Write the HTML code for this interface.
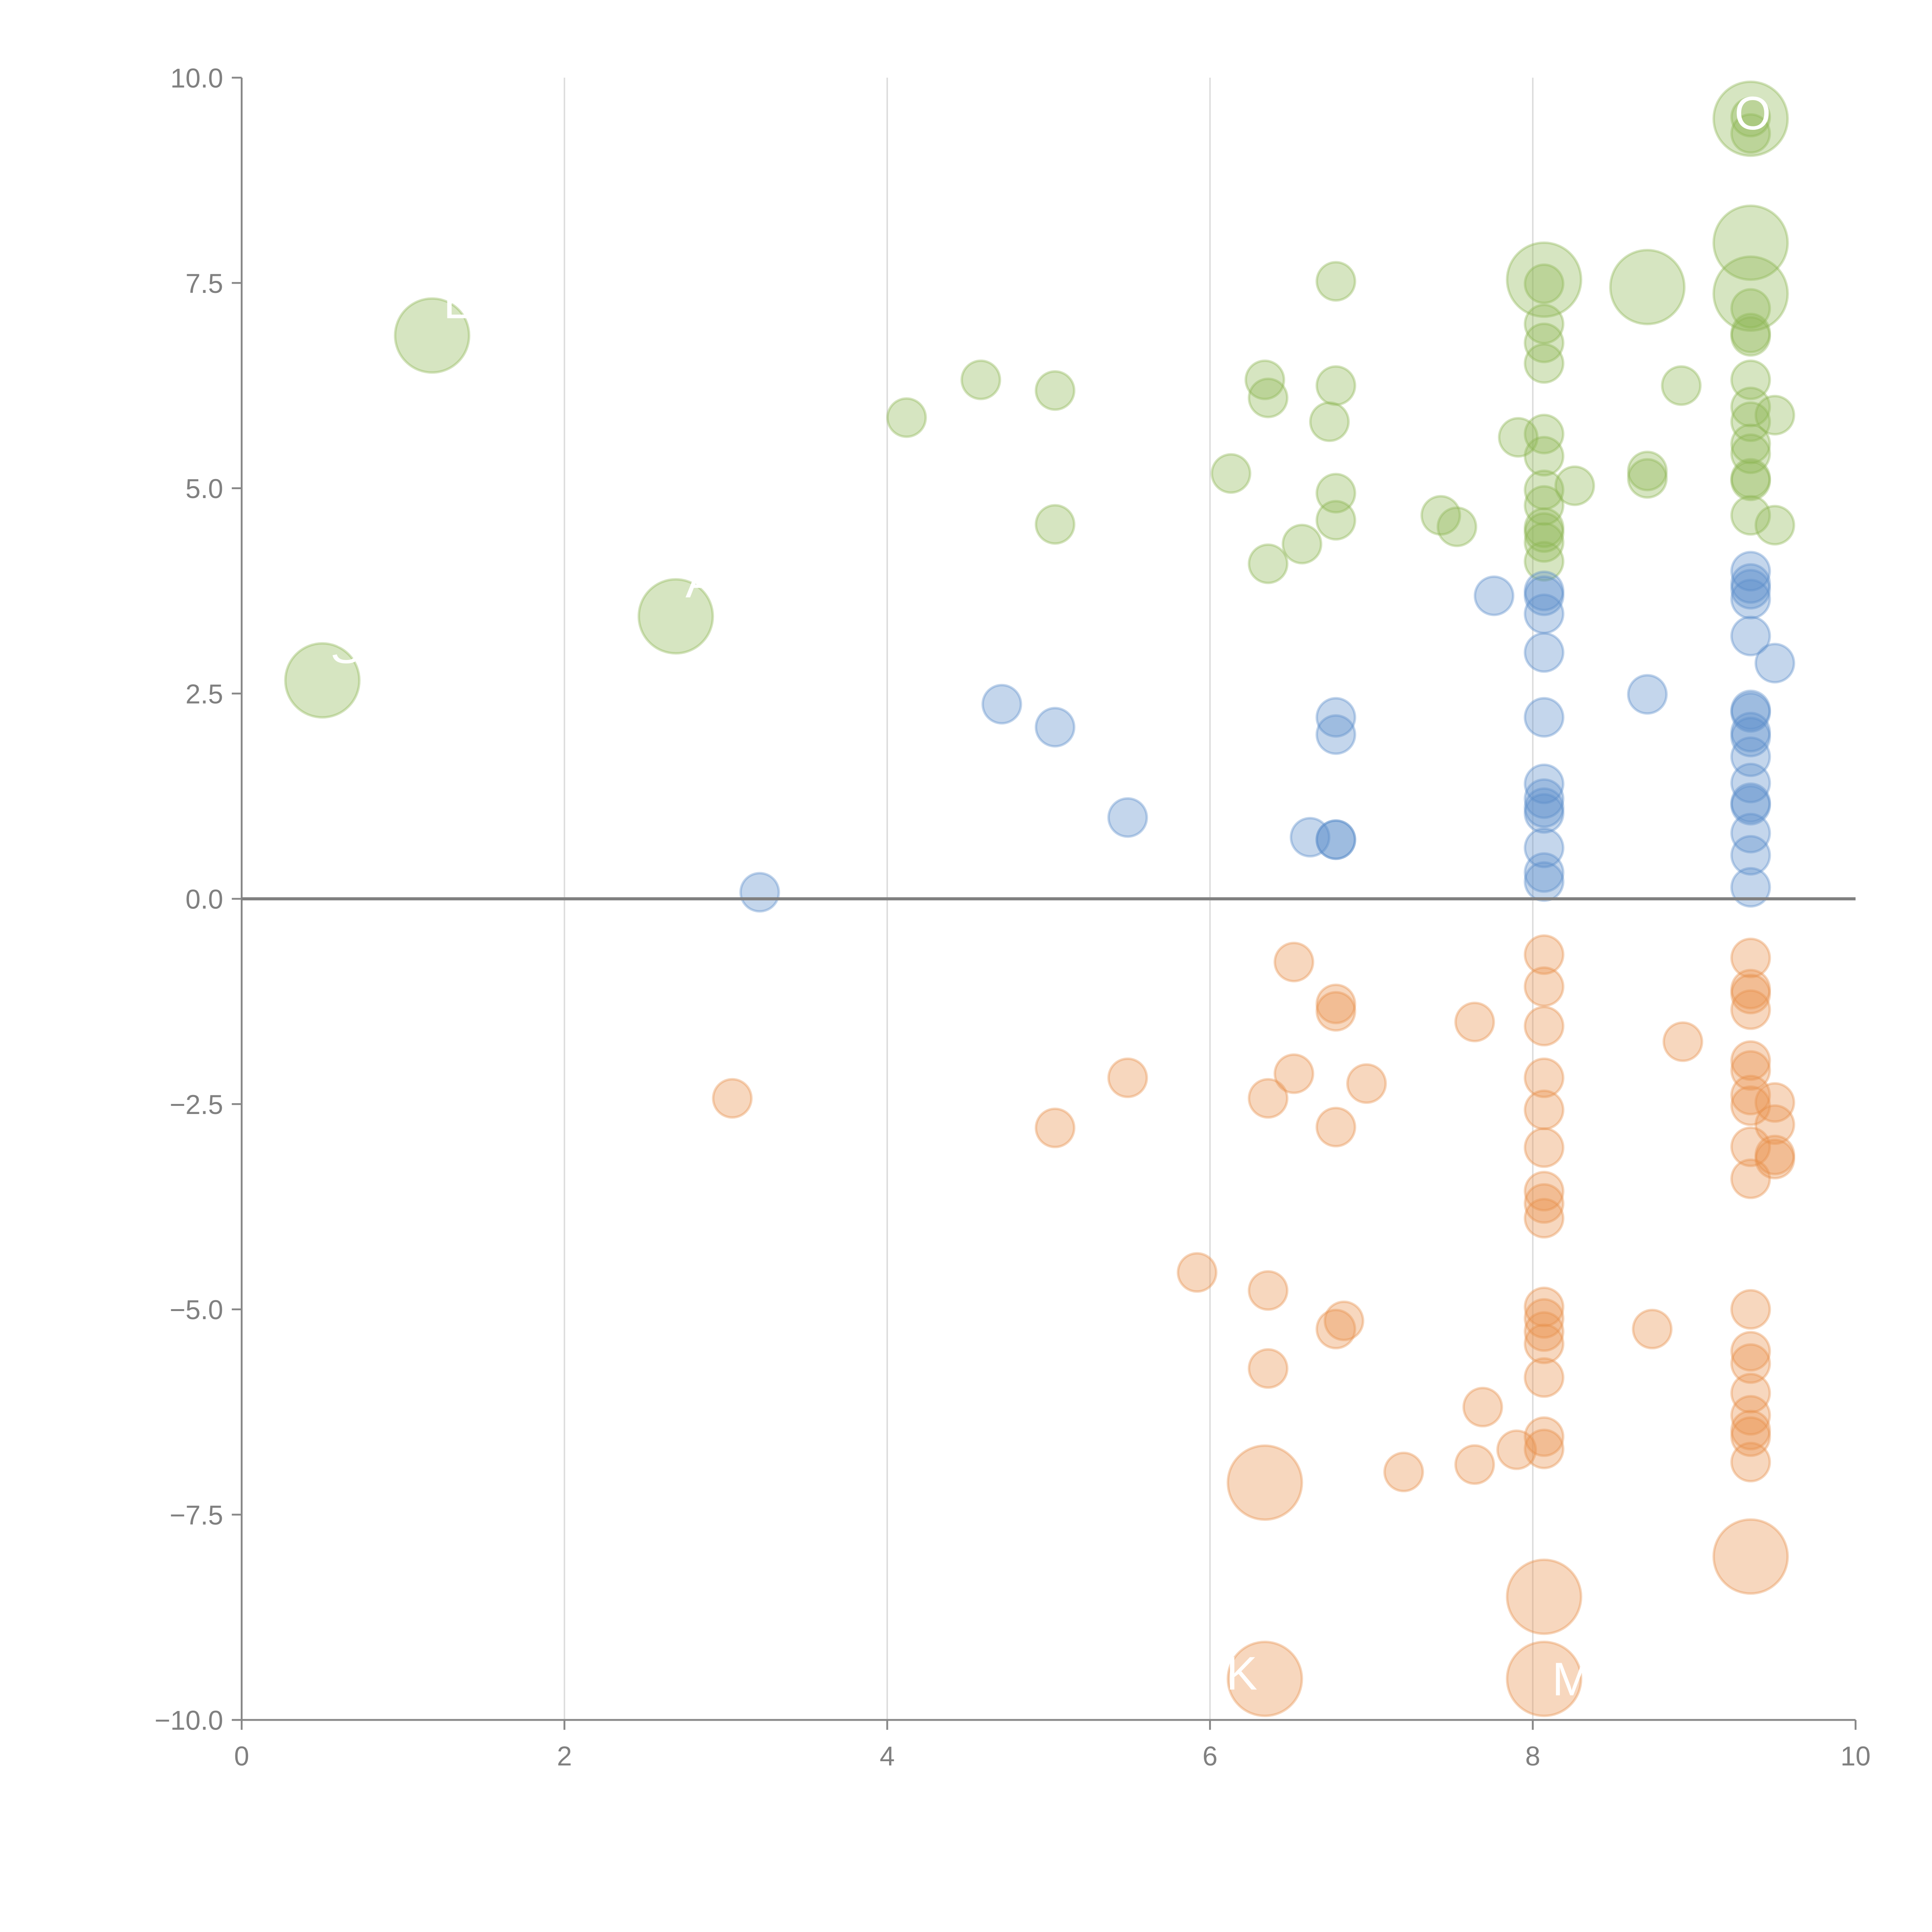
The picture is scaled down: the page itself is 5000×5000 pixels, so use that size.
<!DOCTYPE html>
<html><head><meta charset="utf-8"><style>html,body{margin:0;padding:0;background:#fff}svg{display:block}</style></head>
<body>
<svg id="chart" width="5000" height="5000" viewBox="0 0 1567 1567" xmlns="http://www.w3.org/2000/svg" font-family="Liberation Sans, Arial, sans-serif">
<g id="grid"></g>
<g id="marks"></g>
<g id="axes"></g>
<g id="labels"></g>
</svg>
<script>
const xTicks = [0,2,4,6,8,10];
const yTicks = [10,7.5,5,2.5,0,-2.5,-5,-7.5,-10];
const yTickLabels = ["10.0","7.5","5.0","2.5","0.0","\u22122.5","\u22125.0","\u22127.5","\u221210.0"];

const greenX = [4.12,4.58,5.04,5.04,6.13,6.34,6.36,6.36,6.57,6.74,6.78,6.78,6.78,6.78,7.43,7.53,7.91,8.07,8.07,8.07,8.07,8.07,8.07,8.07,8.07,8.07,8.07,8.07,8.07,8.26,8.71,8.71,8.92,9.35,9.35,9.35,9.35,9.35,9.35,9.35,9.35,9.35,9.35,9.35,9.35,9.35,9.50,9.50, 0.50,1.18,2.69,8.07,8.71,9.35,9.35,9.35];
const greenY = [5.86,6.32,6.19,4.56,5.18,6.32,6.10,4.08,4.32,5.81,7.52,6.25,4.94,4.61,4.67,4.53,5.62,7.49,7.00,6.77,6.52,5.66,5.39,4.98,4.79,4.52,4.46,4.34,4.11,5.03,5.21,5.12,6.25,9.52,9.32,7.19,6.89,6.85,6.32,5.99,5.81,5.54,5.42,5.12,5.09,4.67,5.89,4.55, 2.66,6.86,3.44,7.54,7.45,9.50,7.99,7.37];
const greenSize = [1,1,1,1,1,1,1,1,1,1,1,1,1,1,1,1,1,1,1,1,1,1,1,1,1,1,1,1,1,1,1,1,1,1,1,1,1,1,1,1,1,1,1,1,1,1,1,1, 2,2,2,2,2,2,2,2];

const blueX = [3.21,4.71,5.04,5.49,6.62,6.78,6.78,6.78,6.78,7.76,8.07,8.07,8.07,8.07,8.07,8.07,8.07,8.07,8.07,8.07,8.07,8.07,8.71,9.35,9.35,9.35,9.35,9.35,9.35,9.35,9.35,9.35,9.35,9.35,9.35,9.35,9.35,9.35,9.35,9.50];
const blueY = [0.08,2.37,2.09,0.99,0.75,0.72,0.72,2.21,2.00,3.69,3.75,3.69,3.47,3.00,2.21,1.40,1.22,1.11,1.04,0.62,0.32,0.21,2.49,3.99,3.84,3.77,3.65,3.20,2.30,2.27,2.03,1.97,1.73,1.41,1.17,1.14,0.80,0.53,0.14,2.87];

const orangeX = [3.04,5.04,5.49,5.92,6.36,6.36,6.36,6.52,6.52,6.78,6.78,6.78,6.78,6.83,6.97,7.20,7.64,7.64,7.69,7.90,8.07,8.07,8.07,8.07,8.07,8.07,8.07,8.07,8.07,8.07,8.07,8.07,8.07,8.07,8.07,8.07,8.74,8.93,9.35,9.35,9.35,9.35,9.35,9.35,9.35,9.35,9.35,9.35,9.35,9.35,9.35,9.35,9.35,9.35,9.35,9.35,9.50,9.50,9.50,9.50, 6.34,9.35,8.07,6.34,8.07];
const orangeY = [-2.43,-2.79,-2.18,-4.55,-2.43,-4.77,-5.72,-0.77,-2.13,-1.28,-1.37,-2.78,-5.24,-5.14,-2.25,-6.98,-1.50,-6.89,-6.19,-6.71,-0.68,-1.07,-1.55,-2.18,-2.57,-3.03,-3.56,-3.71,-3.89,-4.97,-5.11,-5.27,-5.42,-5.83,-6.55,-6.70,-5.24,-1.74,-0.72,-1.10,-1.16,-1.35,-1.97,-2.09,-2.39,-2.52,-3.02,-3.41,-5.00,-5.51,-5.66,-6.02,-6.29,-6.47,-6.55,-6.86,-2.48,-2.75,-3.12,-3.17, -7.11,-8.01,-8.50,-9.50,-9.50];
const orangeSize = orangeX.map((v,i)=> i>=60 ? 2 : 1);

const NS = "http://www.w3.org/2000/svg";
const X0=196, X1=1505, Y0=1395, Y1=63;
function sx(v){return X0 + (v-0)/(10-0)*(X1-X0);}
function sy(v){return Y0 - (v-(-10))/(20)*(Y0-Y1);}
function mk(tag, attrs, parent){const e=document.createElementNS(NS,tag);for(const k in attrs)e.setAttribute(k,attrs[k]);parent.appendChild(e);return e;}

const grid=document.getElementById('grid'), axes=document.getElementById('axes'), marks=document.getElementById('marks'), labels=document.getElementById('labels');

xTicks.forEach(t=>{
  if(t>0 && t<10){
    const g=mk('line',{x1:sx(t),x2:sx(t),y1:Y1,y2:Y0,stroke:'#dcdcdc','stroke-width':1.2},grid);
    
    
  }
  const tk=mk('line',{x1:sx(t),x2:sx(t),y1:Y0,y2:Y0+8,stroke:'#888','stroke-width':1.5},axes);
  
  
  const tx=mk('text',{x:sx(t),y:Y0+37,'text-anchor':'middle','font-size':22,fill:'#808080'},axes);
  
  
  tx.textContent=String(t);
});
yTicks.forEach((t,i)=>{
  const tk=mk('line',{x1:X0-8,x2:X0,y1:sy(t),y2:sy(t),stroke:'#888','stroke-width':1.5},axes);
  
  
  const tx=mk('text',{x:X0-15,y:sy(t)+8,'text-anchor':'end','font-size':22,fill:'#808080'},axes);
  
  
  tx.textContent=yTickLabels[i];
});
const ya=mk('line',{x1:X0,x2:X0,y1:Y1,y2:Y0,stroke:'#888','stroke-width':1.5},axes);


const xa=mk('line',{x1:X0,x2:X1,y1:Y0,y2:Y0,stroke:'#888','stroke-width':1.5},axes);


const zl=mk('line',{x1:X0,x2:X1,y1:sy(0),y2:sy(0),stroke:'#808080','stroke-width':2.5},axes);



function drawSeries(xs,ys,sizes,color,name){
  xs.forEach((x,i)=>{
    const r = sizes[i]===2 ? 30 : 15.5;
    const c=mk('circle',{cx:sx(x),cy:sy(ys[i]),r:r,fill:color,'fill-opacity':0.36,stroke:color,'stroke-opacity':0.38,'stroke-width':2},marks);
    
    
  });
}
drawSeries(greenX,greenY,greenSize,'#8db654','green-point');
drawSeries(blueX,blueY,blueX.map(()=>1),'#5b8dcb','blue-point');
drawSeries(orangeX,orangeY,orangeSize,'#e8914c','orange-point');

const labelText=["S","E","A","O","K","M"];
const labelX=[0.55,1.25,2.75,9.25,6.10,8.12];
const labelY=[3.05,7.25,3.85,9.55,-9.45,-9.52];
labelText.forEach((s,i)=>{
  const t=mk('text',{x:sx(labelX[i]),y:sy(labelY[i])+12,'font-size':38,fill:'#ffffff'},labels);
  
  
  t.textContent=s;
});
</script>
</body></html>
